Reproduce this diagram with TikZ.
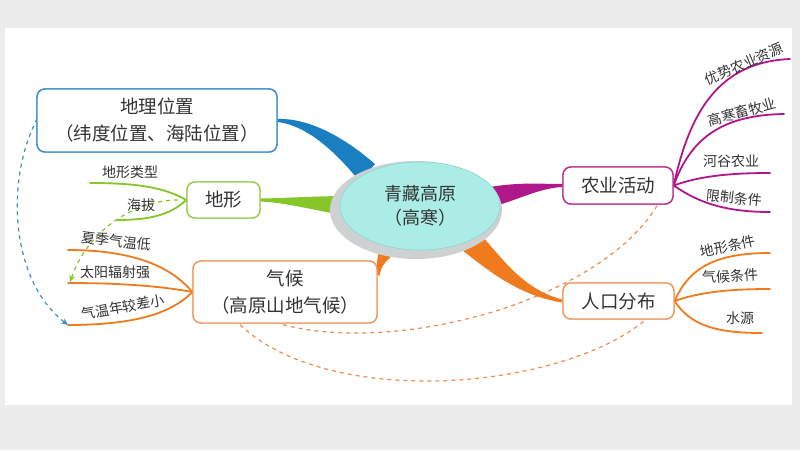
\documentclass[tikz,border=0pt]{standalone}
\usepackage{fontspec}
\setmainfont{Noto Sans CJK SC}
\usetikzlibrary{calc,arrows.meta,shapes.geometric}
\definecolor{txt}{HTML}{333333}
\definecolor{bgc}{HTML}{ECECEC}
\definecolor{blueB}{HTML}{1A7FC1}
\definecolor{blueL}{HTML}{3A8FC8}
\definecolor{greenB}{HTML}{86C628}
\definecolor{greenL}{HTML}{9CCC50}
\definecolor{orangeB}{HTML}{F07A1E}
\definecolor{orangeL}{HTML}{F09A62}
\definecolor{orangeD}{HTML}{F08C50}
\definecolor{magB}{HTML}{B0178A}
\definecolor{magL}{HTML}{B8348F}
\definecolor{cyanF}{HTML}{ABEDE6}
\definecolor{rimG}{HTML}{CDD1D1}
\begin{document}
\begin{tikzpicture}[x=1pt,y=-1pt,
  box/.style={draw, rounded corners=8pt, line width=1.4pt, fill=white, inner sep=0pt, text=txt, font=\fontsize{18.5}{27}\selectfont, align=center},
  leaf/.style={text=txt, font=\fontsize{14}{16}\selectfont, inner sep=0pt},
  twig/.style={line width=1.8pt, line cap=round},
  link/.style={dash pattern=on 4pt off 4pt, line width=1.2pt},
]
\useasboundingbox (0,0) rectangle (800,450);
\fill[bgc] (0,0) rectangle (800,450);
\fill[white] (5,28) rectangle (792,405);

% nodes (placed first so anchors exist; redrawn later on top)
\path (157,120.5) node[box, draw=blueL, minimum width=240pt, minimum height=63pt] (geo) {};
\path (223.5,200) node[box, draw=greenL, minimum width=73pt, minimum height=36pt] (dx) {};
\path (285,292) node[box, draw=orangeL, minimum width=184pt, minimum height=62pt] (qh) {};
\path (618,185.5) node[box, draw=magL, minimum width=110pt, minimum height=37pt] (ny) {};
\path (618.5,301) node[box, draw=orangeL, minimum width=111pt, minimum height=36pt] (rk) {};

% free ends
\coordinate (g1) at (90,183);
\coordinate (g2) at (117,220);
\coordinate (o1) at (68,250);
\coordinate (o2) at (68,283);
\coordinate (o3) at (68,325);
\coordinate (m1) at (790,59);
\coordinate (m2) at (784,114);
\coordinate (m3) at (770,173);
\coordinate (m4) at (770,212);
\coordinate (r1) at (770,253);
\coordinate (r2) at (770,289);
\coordinate (r3) at (762,333);
\coordinate (hb) at (178,200);

% dashed links
\draw[link, blueL, -{Stealth[length=7pt,width=6pt]}] ($(geo.west)+(1,-2)$) .. controls (5,180) and (10,280) .. (o3);
\draw[link, greenB, -{Stealth[length=7pt,width=6pt]}] (hb) .. controls (140,200) and (90,225) .. ($(o2)+(2,-1)$);
\draw[link, orangeD] ($(qh.south)+(-2,1)$) .. controls (400,355) and (600,300) .. ($(ny.south)+(39,1)$);
\draw[link, orangeD] ($(qh.south)+(-45,1)$) .. controls (330,410) and (560,390) .. ($(rk.south)+(26,1)$);

% thick branches
\fill[blueB] ($(geo.east)+(0,-1.5)$) .. controls (310,118) and (345,138) .. (375,164)
  -- (360,182) .. controls (340,157) and (310,126) .. ($(geo.east)+(0,1.5)$) -- cycle;
\fill[greenB] ($(dx.east)+(0,-1.5)$) .. controls (290,198) and (315,196) .. (350,196)
  -- (350,216) .. controls (315,211) and (290,203) .. ($(dx.east)+(0,1.5)$) -- cycle;
\fill[magB] (490,187) .. controls (520,182) and (540,184) .. ($(ny.west)+(0,-1.5)$)
  -- ($(ny.west)+(0,1.5)$) .. controls (540,188) and (520,199) .. (495,206) -- cycle;
\fill[orangeB] (482,236) .. controls (505,262) and (525,290) .. ($(rk.west)+(0,-1.5)$)
  -- ($(rk.west)+(0,1.5)$) .. controls (520,296) and (490,272) .. (462,250) -- cycle;
\fill[orangeB] (380,248) .. controls (377,258) and (376,266) .. ($(qh.east)+(0,-18)$)
  -- ($(qh.east)+(2,-16)$) .. controls (380,266) and (388,257) .. (404,248) -- cycle;

% twigs
\draw[twig, greenB] (dx.west) .. controls (165,188) and (140,183) .. (g1);
\draw[twig, greenB] (dx.west) .. controls (170,215) and (150,220) .. (g2);
\draw[twig, orangeB] (qh.west) .. controls (170,265) and (130,250) .. (o1);
\draw[twig, orangeB] (qh.west) .. controls (160,286) and (120,283) .. (o2);
\draw[twig, orangeB] (qh.west) .. controls (170,315) and (130,325) .. (o3);
\draw[twig, magB] (ny.east) .. controls (690,110) and (720,62) .. (m1);
\draw[twig, magB] (ny.east) .. controls (690,140) and (720,115) .. (m2);
\draw[twig, magB] (ny.east) .. controls (700,176) and (730,173) .. (m3);
\draw[twig, magB] (ny.east) .. controls (695,200) and (720,212) .. (m4);
\draw[twig, orangeB] (rk.east) .. controls (690,265) and (720,253) .. (r1);
\draw[twig, orangeB] (rk.east) .. controls (700,292) and (730,289) .. (r2);
\draw[twig, orangeB] (rk.east) .. controls (690,325) and (715,333) .. (r3);

% centre ellipse
\fill[rimG] (416,210) ellipse [x radius=86pt, y radius=49pt];
\node[ellipse, fill=cyanF, draw=cyanF!80!teal, line width=0.6pt, minimum width=160pt, minimum height=88pt, inner sep=0pt, text=txt, align=center, font=\fontsize{18}{24}\selectfont] (ctr) at (420,206) {青藏高原\\（高寒）};

% boxes on top
\path (geo) node[box, draw=blueL, minimum width=240pt, minimum height=63pt] {地理位置\\（纬度位置、海陆位置）};
\path (dx) node[box, draw=greenL, minimum width=73pt, minimum height=36pt] {地形};
\path (qh) node[box, draw=orangeL, minimum width=184pt, minimum height=62pt] {气候\\（高原山地气候）};
\path (ny) node[box, draw=magL, minimum width=110pt, minimum height=37pt] {农业活动};
\path (rk) node[box, draw=orangeL, minimum width=111pt, minimum height=36pt] {人口分布};

% leaf labels
\node[leaf] (l1) at (130,172) {地形类型};
\node[leaf] (l2) at (141,205) {海拔};
\node[leaf, rotate=-7] (l3) at (116,241) {夏季气温低};
\node[leaf] (l4) at (115,272) {太阳辐射强};
\node[leaf, rotate=10] (l5) at (123,307) {气温年较差小};
\node[leaf, rotate=23] (l6) at (744,64) {优势农业资源};
\node[leaf, rotate=15] (l7) at (742,112) {高寒畜牧业};
\node[leaf] (l8) at (731,161) {河谷农业};
\node[leaf, rotate=-6] (l9) at (734,198) {限制条件};
\node[leaf, rotate=12] (l10) at (728,246) {地形条件};
\node[leaf, rotate=3] (l11) at (730,276) {气候条件};
\node[leaf] (l12) at (740,318) {水源};
\end{tikzpicture}
\end{document}
